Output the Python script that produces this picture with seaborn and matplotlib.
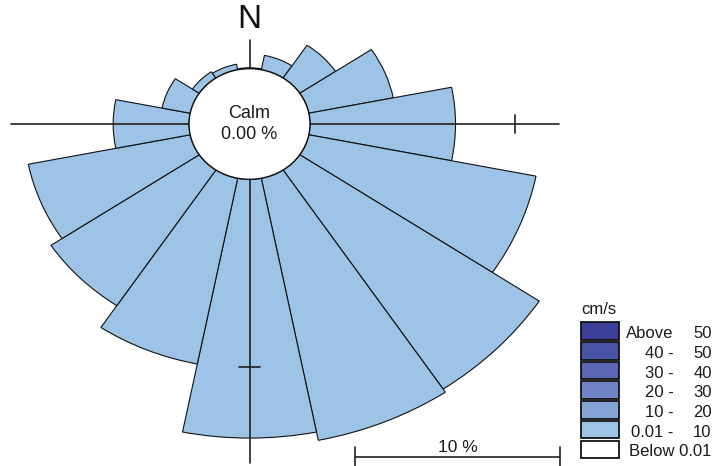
import numpy as np
import pandas as pd
import matplotlib
matplotlib.use("Agg")
import matplotlib.pyplot as plt
import seaborn as sns
from matplotlib.patches import Ellipse, Rectangle

# ---------------- data ----------------
directions = ["N", "NNE", "NE", "ENE", "E", "ESE", "SE", "SSE",
              "S", "SSW", "SW", "WSW", "W", "WNW", "NW", "NNW"]
direction_deg = [0, 22.5, 45, 67.5, 90, 112.5, 135, 157.5,
                 180, 202.5, 225, 247.5, 270, 292.5, 315, 337.5]
freq_pct = [0.05, 0.78, 2.1, 4.2, 7.1, 11.3, 14.05, 14.25,
            13.8, 10.1, 8.7, 8.05, 3.7, 1.4, 0.4, 0.3]
calm_pct = 0.00
speed_left = ["Above", "40 -", "30 -", "20 -", "10 -", "0.01 -", "Below 0.01"]
speed_right = ["50", "50", "40", "30", "20", "10", ""]
speed_colors = ["#3b3f98", "#4a52a6", "#5b66b2", "#6f82c4", "#84a3d6", "#9dc3e6", "#ffffff"]
scale_pct = 10

df = pd.DataFrame({"dir": directions, "deg": direction_deg, "freq": freq_pct})

# ---------------- style ----------------
sns.set_theme(style="white")
plt.rcParams["font.family"] = ["Liberation Sans", "DejaVu Sans"]
palette = sns.color_palette(speed_colors)

W, H = 713, 466
fig = plt.figure(figsize=(W / 100, H / 100), dpi=100)
fig.patch.set_facecolor("white")

cx, cy = 249.5, 124.0      # centre in pixels (from top)
sx, sy = 20.5, 18.75       # pixels per percent
R = 19.0                   # radial limit (percent units)
r_calm = 2.95              # radius of calm circle (percent units)

rect = [(cx - R * sx) / W, (H - (cy + R * sy)) / H, 2 * R * sx / W, 2 * R * sy / H]

# polar bars
ax = fig.add_axes(rect, projection="polar")
ax.set_theta_zero_location("N")
ax.set_theta_direction(-1)
ax.set_ylim(0, R)
ax.set_aspect("auto")
ax.set_axis_off()
ax.bar(np.deg2rad(df["deg"]), df["freq"], width=2 * np.pi / 16, bottom=r_calm,
       color=palette[5], edgecolor="#111111", linewidth=0.8, align="center")

# overlay for axes lines, calm circle, scale bar
ax2 = fig.add_axes(rect)
ax2.set_xlim(-R, R)
ax2.set_ylim(-R, R)
ax2.set_axis_off()
ax2.patch.set_alpha(0)
lc = "#222222"
ax2.plot([-11.65, 15.1], [0, 0], color=lc, lw=1.2, zorder=2)
ax2.plot([0, 0], [4.48, -18.1], color=lc, lw=1.2, zorder=2)
tick_r = r_calm + scale_pct
ax2.plot([tick_r, tick_r], [-0.48, 0.48], color=lc, lw=1.2, zorder=2)
ax2.plot([-0.49, 0.49], [-tick_r, -tick_r], color=lc, lw=1.2, zorder=2)
ax2.add_patch(Ellipse((0, 0), 2 * r_calm, 2 * r_calm, facecolor="white",
                      edgecolor="#111111", lw=1.0, zorder=3))
ax2.text(0, 0.55, "Calm", ha="center", va="center", fontsize=13, color="#1a1a1a", zorder=4)
ax2.text(0, -0.55, f"{calm_pct:.2f} %", ha="center", va="center", fontsize=13,
         color="#1a1a1a", zorder=4)
# scale bar
sb_x0, sb_y = 5.15, -17.74
ax2.plot([sb_x0, sb_x0 + scale_pct], [sb_y, sb_y], color=lc, lw=1.2)
ax2.plot([sb_x0, sb_x0], [sb_y - 0.5, sb_y + 0.5], color=lc, lw=1.2)
ax2.plot([sb_x0 + scale_pct, sb_x0 + scale_pct], [sb_y - 0.5, sb_y + 0.5], color=lc, lw=1.2)
ax2.text(sb_x0 + scale_pct / 2, -17.5, f"{scale_pct} %", ha="center", va="baseline",
         fontsize=12.5, color="#1a1a1a")

# pixel-space axes for N label & legend
ax3 = fig.add_axes([0, 0, 1, 1])
ax3.set_xlim(0, W)
ax3.set_ylim(H, 0)
ax3.set_axis_off()
ax3.patch.set_alpha(0)
ax3.text(cx, 20, "N", ha="center", va="center", fontsize=24, color="#111111")

ax3.text(581, 314, "cm/s", ha="left", va="baseline", fontsize=12, color="#1a1a1a")
for i, (lt, rt, col) in enumerate(zip(speed_left, speed_right, palette)):
    top = 322.3 + i * 19.7
    ax3.add_patch(Rectangle((581, top), 38, 17.5, facecolor=col, edgecolor="#111111", lw=1.3))
    if rt:
        ax3.text(673.5, top + 16, lt, ha="right", va="baseline", fontsize=12, color="#1a1a1a")
        ax3.text(711.7, top + 16, rt, ha="right", va="baseline", fontsize=12, color="#1a1a1a")
    else:
        ax3.text(711.7, top + 16, lt, ha="right", va="baseline", fontsize=12, color="#1a1a1a")

fig.savefig("out.png", dpi=100, facecolor="white")
